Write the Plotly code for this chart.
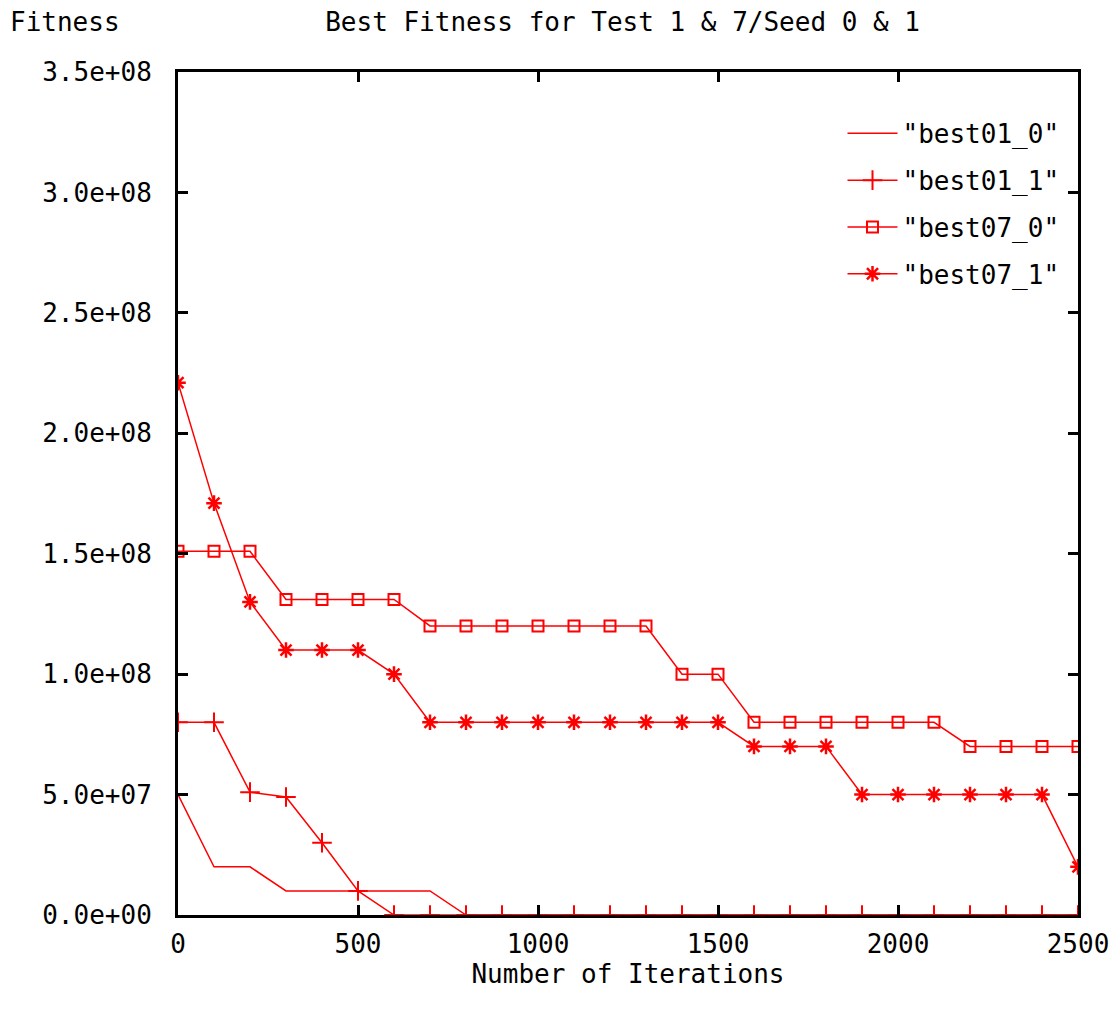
import plotly.graph_objects as go

iterations = list(range(0, 2600, 100))

best01_0 = [5.0e7, 2.0e7, 2.0e7, 1.0e7, 1.0e7, 1.0e7, 1.0e7, 1.0e7, 0, 0,
            0, 0, 0, 0, 0, 0, 0, 0, 0, 0, 0, 0, 0, 0, 0, 0]
best01_1 = [8.0e7, 8.0e7, 5.1e7, 4.9e7, 3.0e7, 1.0e7, 0, 0, 0, 0,
            0, 0, 0, 0, 0, 0, 0, 0, 0, 0, 0, 0, 0, 0, 0, 0]
best07_0 = [1.51e8, 1.51e8, 1.51e8, 1.31e8, 1.31e8, 1.31e8, 1.31e8, 1.2e8, 1.2e8, 1.2e8,
            1.2e8, 1.2e8, 1.2e8, 1.2e8, 1.0e8, 1.0e8, 8.0e7, 8.0e7, 8.0e7, 8.0e7,
            8.0e7, 8.0e7, 7.0e7, 7.0e7, 7.0e7, 7.0e7]
best07_1 = [2.21e8, 1.71e8, 1.3e8, 1.1e8, 1.1e8, 1.1e8, 1.0e8, 8.0e7, 8.0e7, 8.0e7,
            8.0e7, 8.0e7, 8.0e7, 8.0e7, 8.0e7, 8.0e7, 7.0e7, 7.0e7, 7.0e7, 5.0e7,
            5.0e7, 5.0e7, 5.0e7, 5.0e7, 5.0e7, 2.0e7]

series_names = ['"best01_0"', '"best01_1"', '"best07_0"', '"best07_1"']

x_tickvals = [0, 500, 1000, 1500, 2000, 2500]
x_ticktext = ["0", "500", "1000", "1500", "2000", "2500"]
y_tickvals = [0, 5e7, 1e8, 1.5e8, 2e8, 2.5e8, 3e8, 3.5e8]
y_ticktext = ["0.0e+00", "5.0e+07", "1.0e+08", "1.5e+08", "2.0e+08",
              "2.5e+08", "3.0e+08", "3.5e+08"]

RED = "#ff0000"
FONT = "DejaVu Sans Mono"
FS = 26

fig = go.Figure()
fig.add_trace(go.Scatter(x=iterations, y=best01_0, name=series_names[0], mode="lines",
                         legendgroup="a", line=dict(color=RED, width=1.5)))
fig.add_trace(go.Scatter(x=iterations, y=best01_1, name=series_names[1], mode="lines+markers",
                         legendgroup="b", line=dict(color=RED, width=1.5),
                         marker=dict(symbol="cross-thin-open", size=14, color=RED,
                                     line=dict(color=RED, width=2))))
fig.add_trace(go.Scatter(x=iterations, y=best07_0, name=series_names[2], mode="lines+markers",
                         legendgroup="c", line=dict(color=RED, width=1.5),
                         marker=dict(symbol="square-open", size=11, color=RED,
                                     line=dict(color=RED, width=2))))
fig.add_trace(go.Scatter(x=iterations, y=best07_1, name=series_names[3], mode="lines+markers",
                         legendgroup="d", line=dict(color=RED, width=1.5),
                         marker=dict(symbol="asterisk-open", size=13, color=RED,
                                     line=dict(color=RED, width=2.5))))

axis_common = dict(showline=True, linecolor="black", linewidth=3, mirror="allticks",
                   ticks="inside", ticklen=10, tickwidth=3, tickcolor="black",
                   showgrid=False, zeroline=False, automargin=False,
                   tickfont=dict(family=FONT, size=FS, color="black"))

fig.update_xaxes(range=[0, 2500], tickvals=x_tickvals, ticktext=x_ticktext,
                 ticklabelstandoff=4,
                 title=dict(text="Number of Iterations", standoff=6,
                            font=dict(family=FONT, size=FS, color="black")),
                 **axis_common)
fig.update_yaxes(range=[0, 3.5e8], tickvals=y_tickvals, ticktext=y_ticktext,
                 ticklabelstandoff=18, **axis_common)

fig.update_layout(
    width=1110, height=1023,
    margin=dict(l=178, r=32, t=72, b=108),
    paper_bgcolor="white", plot_bgcolor="white",
    font=dict(family=FONT, size=FS, color="black"),
    title=dict(text="Best Fitness for Test 1 &amp; 7/Seed 0 &amp; 1", xref="paper", x=0.494,
               xanchor="center", y=1 - 22 / 1023, yanchor="middle",
               font=dict(family=FONT, size=FS, color="black")),
    showlegend=True,
    legend=dict(x=0.985, y=0.955, xanchor="right", yanchor="top",
                bgcolor="rgba(0,0,0,0)", font=dict(family=FONT, size=FS, color="black"),
                itemwidth=50, tracegroupgap=10),
    annotations=[dict(text="Fitness", xref="paper", yref="paper",
                      x=-170 / 900, y=(843 + 50) / 843, xanchor="left", yanchor="middle",
                      showarrow=False, font=dict(family=FONT, size=FS, color="black"))],
)

fig.write_html("out.html")
